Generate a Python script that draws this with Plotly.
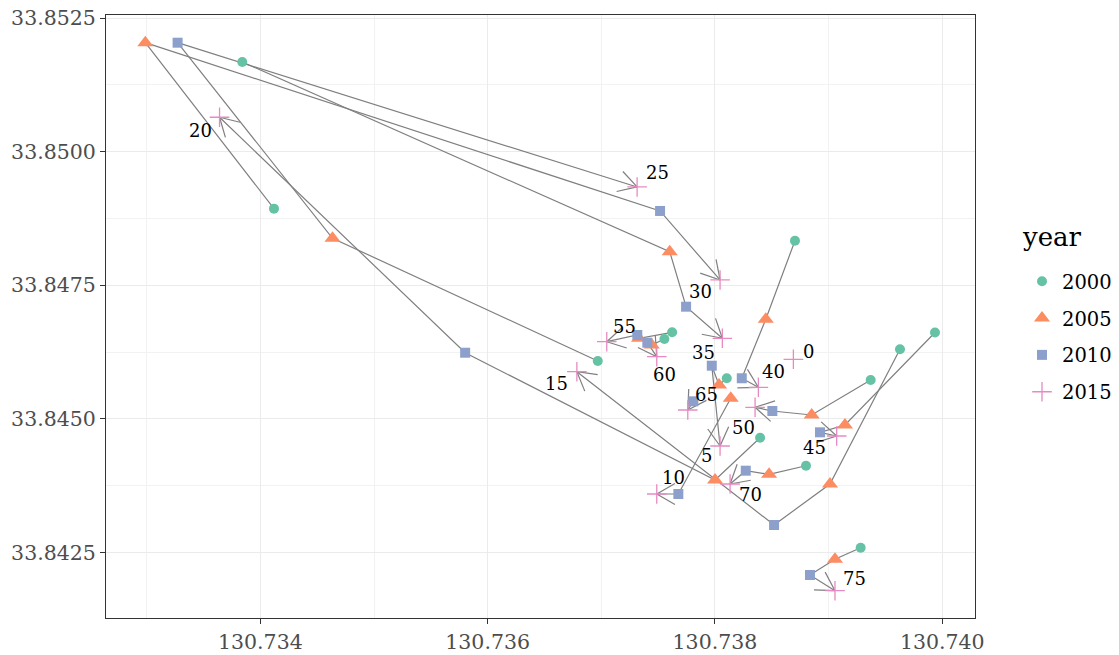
import math
import plotly.graph_objects as go

# ---------------- data ----------------
ids = [0, 5, 10, 15, 20, 25, 30, 35, 40, 45, 50, 55, 60, 65, 70, 75]
years = ["2000", "2005", "2010", "2015"]

lon_2000 = [None, 130.738104, None, 130.739628, 130.738397, 130.736969, 130.734120, 130.733841,
            130.738704, 130.739936, 130.739370, 130.737623, 130.737555, None, 130.738801, 130.739282]
lat_2000 = [None, 33.845761, None, 33.846303, 33.844649, 33.846084, 33.848934, 33.851678,
            33.848335, 33.846617, 33.845729, 33.846621, 33.846496, None, 33.844125, 33.842591]

lon_2005 = [None, 130.738036, 130.738139, 130.739012, 130.738001, 130.734635, 130.732988, 130.737602,
            130.738447, 130.739144, 130.738851, 130.737332, 130.737444, None, 130.738476, 130.739056]
lat_2005 = [None, 33.845635, 33.845386, 33.843783, 33.843858, 33.848380, 33.852039, 33.848129,
            33.846864, 33.844887, 33.845074, 33.846509, 33.846384, None, 33.843964, 33.842374]

lon_2010 = [None, 130.737972, 130.737678, 130.738520, 130.735802, 130.733272, 130.737517, 130.737746,
            130.738236, 130.738924, 130.738505, 130.737317, 130.737405, 130.737810, 130.738271, 130.738836]
lat_2010 = [None, 33.845996, 33.843596, 33.843016, 33.846239, 33.852039, 33.848891, 33.847100,
            33.845761, 33.844750, 33.845149, 33.846571, 33.846427, 33.845330, 33.844032, 33.842080]

lon_2015 = [130.738690, 130.738045, 130.737488, 130.736785, 130.733641, 130.737315, 130.738045, 130.738065,
            130.738382, 130.739071, 130.738353, 130.737048, 130.737488, 130.737761, 130.738133, 130.739056]
lat_2015 = [33.846116, 33.844494, 33.843596, 33.845884, 33.850644, 33.849340, 33.847600, 33.846509,
            33.845592, 33.844681, 33.845218, 33.846445, 33.846165, 33.845167, 33.843783, 33.841787]

x_ticks = [130.734, 130.736, 130.738, 130.740]
x_ticklabels = ["130.734", "130.736", "130.738", "130.740"]
x_minor = [130.733, 130.735, 130.737, 130.739]
y_ticks = [33.8425, 33.8450, 33.8475, 33.8500, 33.8525]
y_ticklabels = ["33.8425", "33.8450", "33.8475", "33.8500", "33.8525"]
y_minor = [33.84125, 33.84375, 33.84625, 33.84875, 33.85125]

# ---------------- style / layout ----------------
W, H = 1119, 655
ML, MR, MT, MB = 106, 144, 15, 37
XR = [130.732642, 130.740288]
YR = [33.841276, 33.852557]

colors = {"2000": "#66C2A5", "2005": "#FC8D62", "2010": "#8DA0CB", "2015": "#E78AC3"}
symbols = {"2000": "circle", "2005": "triangle-up", "2010": "square", "2015": "cross-thin"}
sizes = {"2000": 10, "2005": 14, "2010": 10, "2015": 14}
FONT = "DejaVu Serif"
PATH_COLOR = "#7F7F7F"

# label offsets (pixels, right / down) relative to each 2015 point
label_dx = [15, -14, 17, -20, -19, 20, -20, -19, 15, -22, -12, 18, 8, 19, 20, 20]
label_dy = [-8, 10, -16, 12, 13, -14, 12, 14, -16, 12, 20, -15, 18, -16, 11, -12]

lon = {"2000": lon_2000, "2005": lon_2005, "2010": lon_2010, "2015": lon_2015}
lat = {"2000": lat_2000, "2005": lat_2005, "2010": lat_2010, "2015": lat_2015}

fig = go.Figure()

plot_w = W - ML - MR
plot_h = H - MT - MB
sx = plot_w / (XR[1] - XR[0])
sy = plot_h / (YR[1] - YR[0])

ARROW_LEN = 21.0
ARROW_ANG = math.radians(30)

bx, by = [], []
for i, _id in enumerate(ids):
    pts = [(lon[y][i], lat[y][i]) for y in years if lon[y][i] is not None]
    if len(pts) < 2:
        continue
    fig.add_trace(go.Scatter(
        x=[p[0] for p in pts], y=[p[1] for p in pts], mode="lines",
        line=dict(color=PATH_COLOR, width=1.2), showlegend=False, hoverinfo="skip"))
    (x0, y0), (x1, y1) = pts[-2], pts[-1]
    theta = math.atan2((y1 - y0) * sy, (x1 - x0) * sx)
    for s in (1, -1):
        a = theta + s * ARROW_ANG
        ex = x1 - ARROW_LEN * math.cos(a) / sx
        ey = y1 - ARROW_LEN * math.sin(a) / sy
        bx += [ex, x1, None]
        by += [ey, y1, None]

fig.add_trace(go.Scatter(x=bx, y=by, mode="lines", line=dict(color=PATH_COLOR, width=1.2),
                         showlegend=False, hoverinfo="skip"))

for k, yr in enumerate(years):
    xs = [v for v in lon[yr] if v is not None]
    ys = [v for v in lat[yr] if v is not None]
    marker = dict(symbol=symbols[yr], size=sizes[yr], color=colors[yr],
                  line=dict(width=0))
    if yr == "2015":
        marker["line"] = dict(width=1.3, color=colors[yr])
    fig.add_trace(go.Scatter(x=xs, y=ys, mode="markers", marker=marker, name=yr,
                             legendgroup=yr))

for i, _id in enumerate(ids):
    fig.add_annotation(x=lon_2015[i], y=lat_2015[i], text=str(_id), showarrow=False,
                       xshift=label_dx[i], yshift=-label_dy[i],
                       font=dict(family=FONT, size=18, color="black"))

# legend title as text
fig.add_annotation(xref="paper", yref="paper", x=(1020 - ML) / plot_w, y=(H - MB - 237) / plot_h,
                   xanchor="left", yanchor="middle", text="year", showarrow=False,
                   font=dict(family=FONT, size=26, color="black"))

axis_common = dict(showline=True, linecolor="#333333", linewidth=1, mirror=True,
                   ticks="outside", ticklen=5, tickcolor="#333333", tickwidth=1,
                   showgrid=True, gridcolor="#EBEBEB", gridwidth=1, zeroline=False,
                   automargin=False,
                   tickfont=dict(family=FONT, size=20.5, color="#4D4D4D"))

fig.update_layout(
    width=W, height=H,
    margin=dict(l=ML, r=MR, t=MT, b=MB, pad=0, autoexpand=False),
    paper_bgcolor="white", plot_bgcolor="white",
    xaxis=dict(range=XR, tickmode="array", tickvals=x_ticks, ticktext=x_ticklabels,
               minor=dict(tickmode="array", tickvals=x_minor, showgrid=True,
                          gridcolor="#F2F2F2", gridwidth=0.6, ticks=""),
               **axis_common),
    yaxis=dict(range=YR, tickmode="array", tickvals=y_ticks, ticktext=y_ticklabels,
               minor=dict(tickmode="array", tickvals=y_minor, showgrid=True,
                          gridcolor="#F2F2F2", gridwidth=0.6, ticks=""),
               **axis_common),
    legend=dict(font=dict(family=FONT, size=19.5, color="black"),
                x=(1022 - ML) / plot_w, xanchor="left",
                y=(H - MB - 262) / plot_h, yanchor="top",
                traceorder="grouped", tracegroupgap=8.5, bgcolor="rgba(0,0,0,0)"),
    showlegend=True,
)

fig.write_html("out.html", config={"displayModeBar": False},
               post_script="document.body.style.margin='0px';")
